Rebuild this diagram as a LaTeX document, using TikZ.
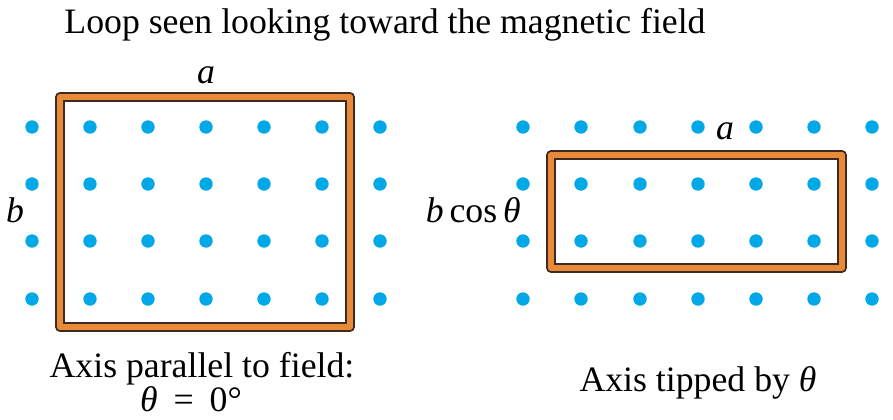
\documentclass[tikz,border=0pt]{standalone}
\usepackage{fontspec}
\setmainfont{Liberation Serif}
\usepackage{tikz}
\usetikzlibrary{positioning}
\usepackage{xcolor}
\definecolor{fieldblue}{RGB}{0,168,232}
\definecolor{loopor}{RGB}{232,138,58}
\definecolor{loopedge}{RGB}{62,42,30}
\tikzset{
    fielddot/.style={fill=fieldblue, draw=none},
    loopwire/.style={draw=loopedge, line width=1.4pt, double=loopor, double distance=5pt, line join=round},
    caption/.style={anchor=base, inner sep=0pt, font=\fontsize{30.5}{35}\selectfont},
    dimlabel/.style={anchor=base, inner sep=0pt, font=\fontsize{30.5}{35}\selectfont\itshape},
}

\begin{document}
\begin{tikzpicture}[x=0.03cm, y=-0.03cm]
    \useasboundingbox (0,0) rectangle (893,420);

    % Title
    \node[caption] (title) at (385, 33) {Loop seen looking toward the magnetic field};

    % Left field, axis parallel
    \foreach \x in {32,90,148,206,264,322,380}
        \foreach \y in {127,184,241,299}
            \fill[fielddot] (\x,\y) circle (6.7);
    \draw[loopwire] (60,97) rectangle (350,327);
    \node[dimlabel] (aleft) at (206, 83) {a};
    \node[dimlabel] (bleft) at (15, 222) {b};
    \node[caption] (capleft) at (202, 377) {Axis parallel to field:};
    \node[caption] (angleft) at (191, 411) {\textit{θ}\;\,=\;\,0°};

    % Right field, axis tipped
    \foreach \x in {523,581,640,698,756,814,872}
        \foreach \y in {127,184,241,299}
            \fill[fielddot] (\x,\y) circle (6.7);
    \draw[loopwire] (551,155) rectangle (842,268);
    \node[dimlabel] (aright) at (725, 139) {a};
    \node[caption, anchor=base east] (bright) at (521, 222) {\textit{b}\,cos\,\textit{θ}};
    \node[caption] (capright) at (698, 391) {Axis tipped by \textit{θ}};
\end{tikzpicture}
\end{document}
